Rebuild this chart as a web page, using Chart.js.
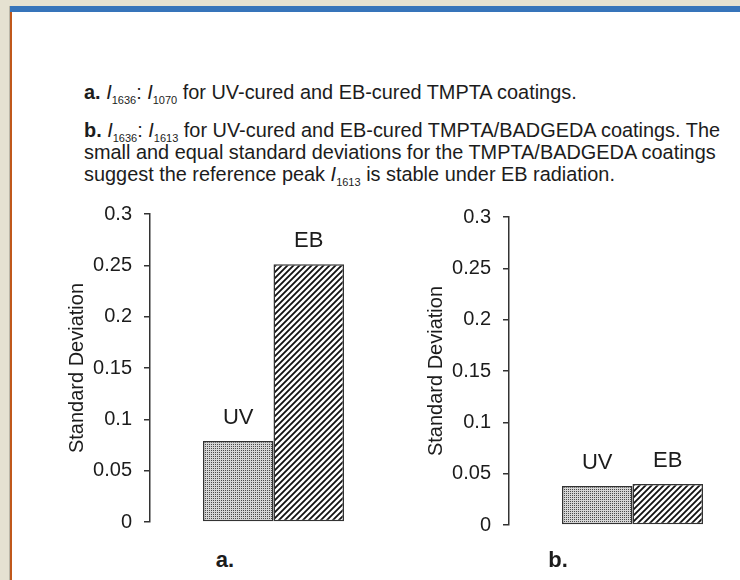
<!DOCTYPE html>
<html>
<head>
<meta charset="utf-8">
<script src="https://cdn.jsdelivr.net/npm/chart.js@4.4.1/dist/chart.umd.min.js"></script>
<style>
    html, body { margin: 0; padding: 0; }
    body {
        width: 740px; height: 580px; overflow: hidden; position: relative;
        background: #e5e1d1;
        font-family: "Liberation Sans", Arial, sans-serif;
        color: #1c1c1c;
    }
    #edge { position: absolute; left: 9px; top: 6px; width: 1px; height: 574px; background: #b9b6a8; }
    #topbar { position: absolute; left: 10px; top: 6px; width: 730px; height: 6px; background: #3674ba; }
    #sidebar { position: absolute; left: 10px; top: 12px; width: 2px; height: 568px; background: #c0581b; }
    #panel { position: absolute; left: 12px; top: 12px; width: 728px; height: 568px; background: #fff; overflow: hidden; }
    .txt { position: absolute; left: 72px; font-size: 19.9px; line-height: 22px; white-space: nowrap; }
    .txt i { font-style: italic; }
    .txt sub { font-size: 11px; vertical-align: -5px; line-height: 0; }
    .panel-label { position: absolute; width: 40px; text-align: center; font-weight: bold; font-size: 22px; line-height: 26px; }
    .box { position: absolute; width: 345px; height: 356px; }
</style>
</head>
<body>
<div id="edge"></div>
<div id="topbar"></div>
<div id="sidebar"></div>
<div id="panel">
    <div class="txt" style="top:69px"><b>a.</b> <i>I</i><sub>1636</sub>: <i>I</i><sub>1070</sub> for UV-cured and EB-cured TMPTA coatings.</div>
    <div class="txt" style="top:107px"><b>b.</b> <i>I</i><sub>1636</sub>: <i>I</i><sub>1613</sub> for UV-cured and EB-cured TMPTA/BADGEDA coatings. The<br>small and equal standard deviations for the TMPTA/BADGEDA coatings<br>suggest the reference peak <i>I</i><sub>1613</sub> is stable under EB radiation.</div>
    <div class="box" style="left:45px; top:178px"><canvas id="chartA"></canvas></div>
    <div class="box" style="left:404px; top:181px"><canvas id="chartB"></canvas></div>
    <div class="panel-label" style="left:193px; top:535px">a.</div>
    <div class="panel-label" style="left:526px; top:535px">b.</div>
</div>

<script>
"use strict";

// daten
const groups = ['UV', 'EB'];
const valuesA = [0.079, 0.251];
const valuesB = [0.038, 0.040];
const yTickValues = [0, 0.05, 0.1, 0.15, 0.2, 0.25, 0.3];
const yTickLabels = ['0', '0.05', '0.1', '0.15', '0.2', '0.25', '0.3'];
const yTitle = 'Standard Deviation';

const textColor = '#1c1c1c';
const axisColor = '#333';
const fontFamily = '"Liberation Sans", Arial, sans-serif';

// punktraster fuer UV
function makeDots() {
    const c = document.createElement('canvas');
    c.width = 2;
    c.height = 2;
    const g = c.getContext('2d');
    g.fillStyle = '#d6d6d6';
    g.fillRect(0, 0, 2, 2);
    g.fillStyle = '#4a4a4a';
    g.fillRect(0, 0, 1, 1);
    return g.createPattern(c, 'repeat');
}

// schraffur fuer EB
function makeHatch() {
    const s = 6;
    const c = document.createElement('canvas');
    c.width = s;
    c.height = s;
    const g = c.getContext('2d');
    g.fillStyle = '#fff';
    g.fillRect(0, 0, s, s);
    g.strokeStyle = '#111';
    g.lineWidth = 1.8;
    g.beginPath();
    g.moveTo(-1, s + 1); g.lineTo(s + 1, -1);
    g.moveTo(-1, 1); g.lineTo(1, -1);
    g.moveTo(s - 1, s + 1); g.lineTo(s + 1, s - 1);
    g.stroke();
    return g.createPattern(c, 'repeat');
}

const fills = [makeDots(), makeHatch()];

// beschriftung ueber den balken
const barLabels = {
    id: 'barLabels',
    afterDatasetsDraw(chart) {
        const ctx = chart.ctx;
        ctx.save();
        ctx.font = '22px ' + fontFamily;
        ctx.fillStyle = textColor;
        ctx.textAlign = 'center';
        ctx.textBaseline = 'middle';
        chart.data.datasets.forEach((ds, i) => {
            const bar = chart.getDatasetMeta(i).data[0];
            ctx.fillText(ds.label, bar.x, bar.y - 23);
        });
        ctx.restore();
    }
};

function makeChart(id, values) {
    return new Chart(document.getElementById(id), {
        type: 'bar',
        data: {
            labels: [''],
            datasets: groups.map((name, i) => ({
                label: name,
                data: [values[i]],
                backgroundColor: fills[i],
                borderColor: axisColor,
                borderWidth: 1.5,
                borderSkipped: false,
                barPercentage: 1,
                categoryPercentage: 141 / 247
            }))
        },
        options: {
            responsive: true,
            maintainAspectRatio: false,
            animation: false,
            layout: { padding: { top: 20, bottom: 16, left: 0, right: 5 } },
            plugins: {
                legend: { display: false },
                tooltip: { enabled: false }
            },
            scales: {
                x: { display: false },
                y: {
                    min: 0,
                    max: 0.3,
                    afterBuildTicks: scale => {
                        scale.ticks = yTickValues.map(v => ({ value: v }));
                    },
                    afterFit: scale => {
                        scale.width = 93;
                    },
                    ticks: {
                        callback: (v, i) => yTickLabels[i],
                        color: textColor,
                        font: { family: fontFamily, size: 20 },
                        padding: 12
                    },
                    grid: {
                        drawOnChartArea: false,
                        tickLength: 6,
                        color: axisColor,
                        lineWidth: 1.5
                    },
                    border: { color: axisColor, width: 1.5 },
                    title: {
                        display: true,
                        text: yTitle,
                        color: textColor,
                        font: { family: fontFamily, size: 20 },
                        padding: { top: 8, bottom: 4 }
                    }
                }
            }
        },
        plugins: [barLabels]
    });
}

makeChart('chartA', valuesA);
makeChart('chartB', valuesB);
</script>
</body>
</html>
